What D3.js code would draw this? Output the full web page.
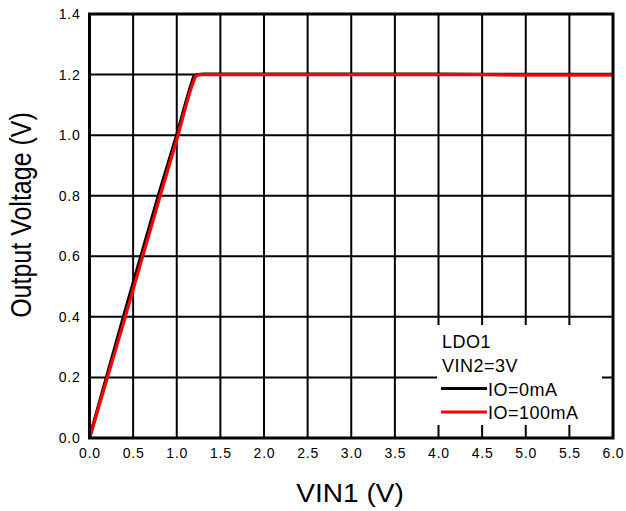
<!DOCTYPE html>
<html>
<head>
<meta charset="utf-8">
<script src="https://cdn.jsdelivr.net/npm/d3@7"></script>
<style>
  body { margin: 0; background: #fff; }
  text { font-family: "Liberation Sans", Arial, sans-serif; }
</style>
</head>
<body>
<svg id="chart" width="626" height="511"></svg>
<script>
// data
var xTicks = [0, 0.5, 1, 1.5, 2, 2.5, 3, 3.5, 4, 4.5, 5, 5.5, 6];
var yTicks = [0, 0.2, 0.4, 0.6, 0.8, 1.0, 1.2, 1.4];
var vin1_0mA = [0, 0.4, 0.8, 1.0, 1.17, 1.2, 1.24, 1.3, 2, 3, 4, 5, 6];
var vout_0mA = [0, 0.41, 0.81, 1.0, 1.17, 1.195, 1.2, 1.201, 1.201, 1.201, 1.201, 1.2, 1.2];
var vin1_100mA = [0, 0.4, 0.8, 1.0, 1.19, 1.22, 1.27, 1.35, 2, 3, 4, 5, 6];
var vout_100mA = [0, 0.39, 0.79, 0.985, 1.175, 1.195, 1.2, 1.2, 1.2, 1.2, 1.2, 1.199, 1.199];
var legendTitle = ["LDO1", "VIN2=3V"];
var seriesNames = ["IO=0mA", "IO=100mA"];
var seriesColors = ["#000000", "#ff0000"];

var margin = {top: 14, right: 13, bottom: 73, left: 89.5};
var width = 626 - margin.left - margin.right,
    height = 511 - margin.top - margin.bottom;

var svg = d3.select("#chart")
  .append("g")
  .attr("transform", "translate(" + margin.left + "," + margin.top + ")");

var x = d3.scaleLinear().domain([0, 6]).range([0, width]);
var y = d3.scaleLinear().domain([0, 1.4]).range([height, 0]);

// grid
svg.append("g")
  .selectAll("line")
  .data(xTicks.slice(1, -1))
  .enter().append("line")
  .attr("x1", d => x(d)).attr("x2", d => x(d))
  .attr("y1", 0).attr("y2", height)
  .attr("stroke", "#000").attr("stroke-width", 2);
svg.append("g")
  .selectAll("line")
  .data(yTicks.slice(1, -1))
  .enter().append("line")
  .attr("x1", 0).attr("x2", width)
  .attr("y1", d => y(d)).attr("y2", d => y(d))
  .attr("stroke", "#000").attr("stroke-width", 2);

// tick labels
svg.append("g")
  .attr("transform", "translate(0," + height + ")")
  .call(d3.axisBottom(x).tickValues(xTicks).tickFormat(d3.format(".1f")).tickSize(0).tickPadding(10))
  .call(g => g.select(".domain").remove())
  .selectAll("text")
  .style("font-size", "14px")
  .style("letter-spacing", "0.8px")
  .style("font-family", "Liberation Sans, Arial, sans-serif")
  .attr("fill", "#000");

svg.append("g")
  .call(d3.axisLeft(y).tickValues(yTicks).tickFormat(d3.format(".1f")).tickSize(0).tickPadding(9))
  .call(g => g.select(".domain").remove())
  .selectAll("text")
  .style("font-size", "14px")
  .style("letter-spacing", "0.8px")
  .style("font-family", "Liberation Sans, Arial, sans-serif")
  .attr("fill", "#000");

// curves
var line = d3.line().x(d => x(d[0])).y(d => y(d[1])).curve(d3.curveMonotoneX);
var s0 = vin1_0mA.map((v, i) => [v, vout_0mA[i]]);
var s1 = vin1_100mA.map((v, i) => [v, vout_100mA[i]]);

svg.append("path").datum(s0)
  .attr("d", line).attr("fill", "none")
  .attr("stroke", seriesColors[0]).attr("stroke-width", 3.4)
  .attr("stroke-linejoin", "round");
svg.append("path").datum(s1)
  .attr("d", line).attr("fill", "none")
  .attr("stroke", seriesColors[1]).attr("stroke-width", 3.2)
  .attr("stroke-linejoin", "round");

// legend
var lg = svg.append("g").attr("transform", "translate(347.5,311)");
lg.append("rect").attr("x", 0).attr("y", 0).attr("width", 165).attr("height", 100).attr("fill", "#fff");
legendTitle.forEach(function(t, i) {
  lg.append("text").attr("x", 5).attr("y", 23 + i * 23.5).text(t)
    .style("font-size", "18px").style("letter-spacing", "0.5px").attr("fill", "#000");
});
seriesNames.forEach(function(t, i) {
  var yy = 63.5 + i * 23.5;
  lg.append("line").attr("x1", 4).attr("x2", 50).attr("y1", yy).attr("y2", yy)
    .attr("stroke", seriesColors[i]).attr("stroke-width", 3);
  lg.append("text").attr("x", 51).attr("y", yy + 7).text(t)
    .style("font-size", "18px").style("letter-spacing", "0.5px").attr("fill", "#000");
});

// frame
svg.append("rect").attr("x", 0).attr("y", 0).attr("width", width).attr("height", height)
  .attr("fill", "none").attr("stroke", "#000").attr("stroke-width", 3);

// titles
d3.select("#chart").append("text")
  .attr("transform", "translate(350,502) scale(1.08,1)")
  .attr("text-anchor", "middle")
  .style("font-size", "26px")
  .text("VIN1 (V)");
d3.select("#chart").append("text")
  .attr("transform", "translate(31,215) rotate(-90) scale(1,1.2)")
  .attr("text-anchor", "middle")
  .style("font-size", "25px")
  .text("Output Voltage (V)");
</script>
</body>
</html>
